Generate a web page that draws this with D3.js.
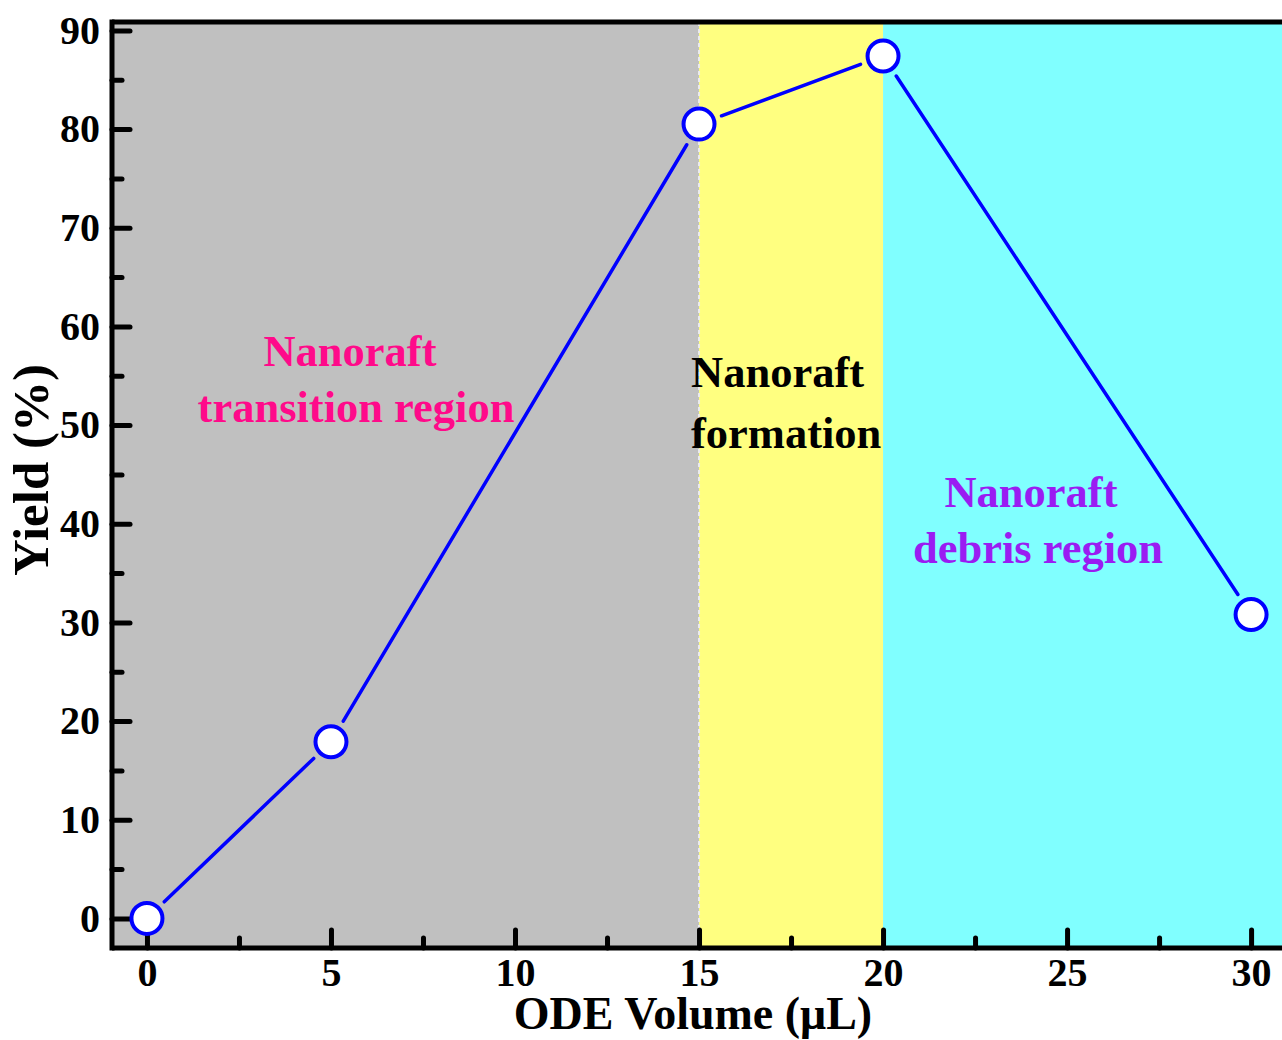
<!DOCTYPE html>
<html>
<head>
<meta charset="utf-8">
<script src="https://cdn.jsdelivr.net/npm/d3@7"></script>
<style>
  html, body { margin: 0; padding: 0; background: #ffffff; }
  svg { display: block; }
  text { font-family: "Liberation Serif", "Times New Roman", serif; font-weight: bold; }
</style>
</head>
<body>
<svg id="chart" width="1282" height="1040"></svg>
<script>
// ---- data ----
const odeVolume = [0, 5, 15, 20, 30];
const yieldPct = [0, 17.9, 80.5, 87.4, 30.8];
const xTicks = [0, 5, 10, 15, 20, 25, 30];
const xMinorTicks = [2.5, 7.5, 12.5, 17.5, 22.5, 27.5];
const yTicks = [0, 10, 20, 30, 40, 50, 60, 70, 80, 90];
const yMinorTicks = [5, 15, 25, 35, 45, 55, 65, 75, 85];
const regionStarts = [-0.95, 15, 20];
const regionEnds = [15, 20, 30.84];
const regionColors = ["#c0c0c0", "#ffff80", "#80ffff"];
const regionLabels = [["Nanoraft", "transition region"], ["Nanoraft", "formation"], ["Nanoraft", "debris region"]];
const labelColors = ["#ff0a8a", "#000000", "#9a1cf2"];
const xTitle = "ODE Volume (\u03bcL)";
const yTitle = "Yield (%)";

// ---- layout ----
const W = 1282, H = 1040;
const plotL = 112, plotR = 1282, plotT = 22, plotB = 948;
const x = d3.scaleLinear().domain([-0.95, 30.84]).range([plotL, plotR]);
const y = d3.scaleLinear().domain([-3.0, 90.85]).range([plotB, plotT]);

const svg = d3.select("#chart");

// regions
svg.selectAll("rect.region").data(regionStarts).enter().append("rect")
  .attr("class", "region")
  .attr("x", (d) => x(d))
  .attr("y", plotT)
  .attr("width", (d, i) => x(regionEnds[i]) - x(d))
  .attr("height", plotB - plotT)
  .attr("fill", (d, i) => regionColors[i]);

// faint dashed boundary between gray and yellow
svg.append("line")
  .attr("x1", x(15)).attr("x2", x(15))
  .attr("y1", plotT).attr("y2", plotB)
  .attr("stroke", "#ececec").attr("stroke-width", 2)
  .attr("stroke-dasharray", "4,3");

// region labels
const labelPos = [
  { cx: [350, 356], base: [366, 422], anchor: "middle" },
  { cx: [691, 691], base: [387, 448], anchor: "start" },
  { cx: [1031, 1038], base: [507, 563], anchor: "middle" }
];
regionLabels.forEach((lines, i) => {
  lines.forEach((t, j) => {
    svg.append("text")
      .attr("x", labelPos[i].cx[j])
      .attr("y", labelPos[i].base[j])
      .attr("text-anchor", labelPos[i].anchor)
      .attr("font-size", 44.5)
      .attr("fill", labelColors[i])
      .text(t);
  });
});

// axes: minor ticks
const yMinorAxis = d3.axisLeft(y).tickValues(yMinorTicks).tickSize(-10).tickFormat("");
const xMinorAxis = d3.axisBottom(x).tickValues(xMinorTicks).tickSize(-10).tickFormat("");
// major
const yAxis = d3.axisLeft(y).tickValues(yTicks).tickSize(-18).tickPadding(12).tickFormat(d3.format("d"));
const xAxis = d3.axisBottom(x).tickValues(xTicks).tickSize(-18).tickPadding(10).tickFormat(d3.format("d"));

function styleAxis(g) {
  g.select(".domain").remove();
  g.selectAll(".tick line").attr("stroke", "#000").attr("stroke-width", 5).attr("stroke-linecap", "round");
  g.selectAll(".tick text").attr("font-size", 40).attr("fill", "#000")
    .attr("font-family", "Liberation Serif, Times New Roman, serif").attr("font-weight", "bold");
}

svg.append("g").attr("transform", `translate(${plotL},0)`).call(yMinorAxis).call(styleAxis);
svg.append("g").attr("transform", `translate(0,${plotB})`).call(xMinorAxis).call(styleAxis);
svg.append("g").attr("transform", `translate(${plotL},0)`).call(yAxis).call(styleAxis);
svg.append("g").attr("transform", `translate(0,${plotB})`).call(xAxis).call(styleAxis);

// frame lines
svg.append("line").attr("x1", plotL).attr("x2", plotR).attr("y1", plotT).attr("y2", plotT)
  .attr("stroke", "#000").attr("stroke-width", 5);
svg.append("line").attr("x1", plotL).attr("x2", plotR).attr("y1", plotB).attr("y2", plotB)
  .attr("stroke", "#000").attr("stroke-width", 5);
svg.append("line").attr("x1", plotL).attr("x2", plotL).attr("y1", plotT - 2.5).attr("y2", plotB + 2.5)
  .attr("stroke", "#000").attr("stroke-width", 5);

// data line segments with gaps near markers
const pts = odeVolume.map((v, i) => [x(v), y(yieldPct[i])]);
const gap = 24;
for (let i = 0; i < pts.length - 1; i++) {
  const [x1, y1] = pts[i], [x2, y2] = pts[i + 1];
  const dx = x2 - x1, dy = y2 - y1, len = Math.hypot(dx, dy);
  const ux = dx / len, uy = dy / len;
  svg.append("line")
    .attr("x1", x1 + ux * gap).attr("y1", y1 + uy * gap)
    .attr("x2", x2 - ux * gap).attr("y2", y2 - uy * gap)
    .attr("stroke", "#0000ff").attr("stroke-width", 3.5).attr("stroke-linecap", "round");
}

// markers
svg.selectAll("circle.pt").data(odeVolume).enter().append("circle")
  .attr("class", "pt")
  .attr("cx", (d) => x(d))
  .attr("cy", (d, i) => y(yieldPct[i]))
  .attr("r", 15.5)
  .attr("fill", "#ffffff")
  .attr("stroke", "#0000ff")
  .attr("stroke-width", 4);

// axis titles
svg.append("text")
  .attr("x", 693).attr("y", 1029)
  .attr("text-anchor", "middle")
  .attr("font-size", 46)
  .attr("fill", "#000")
  .text(xTitle);

svg.append("text")
  .attr("transform", "translate(48,470) rotate(-90)")
  .attr("text-anchor", "middle")
  .attr("font-size", 51)
  .attr("fill", "#000")
  .text(yTitle);
</script>
</body>
</html>
